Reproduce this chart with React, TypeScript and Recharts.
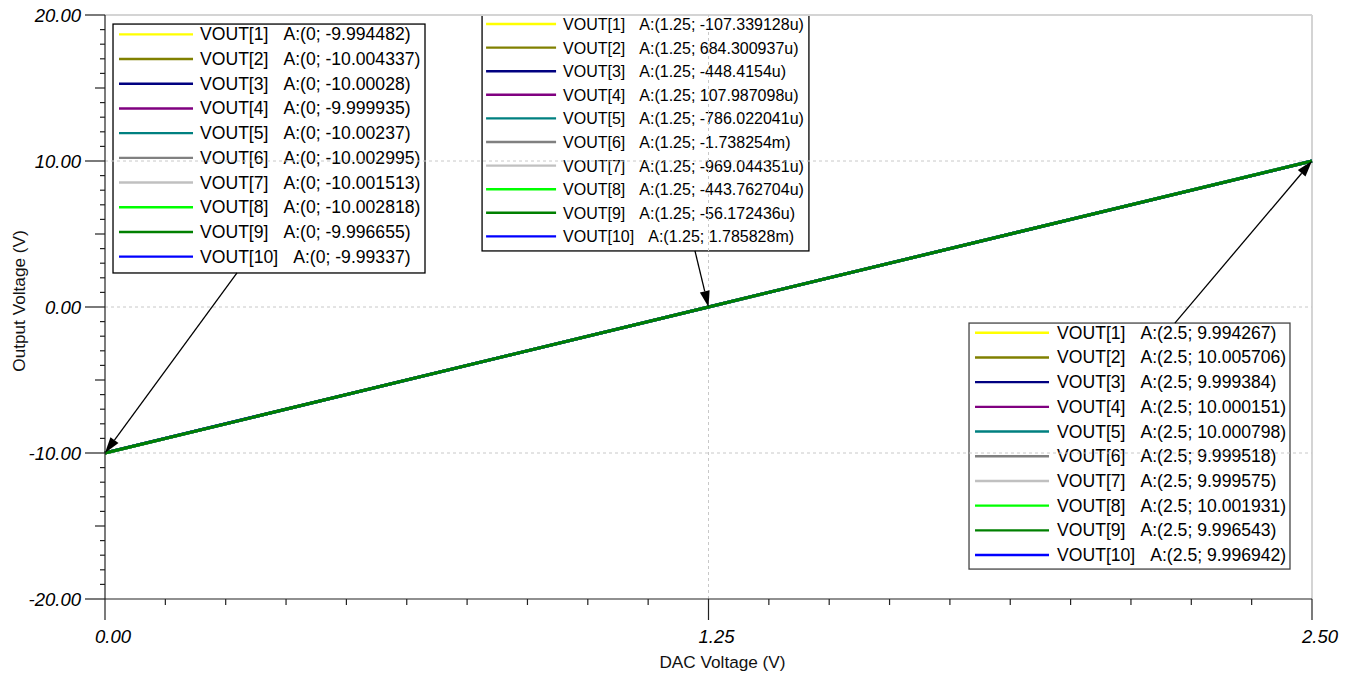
import React from 'react';
import { LineChart, Line, XAxis, YAxis, ReferenceLine, ReferenceArea } from 'recharts';

// cursor positions on the DAC axis
const dacVolts = [0, 1.25, 2.5];

const vout1 = [-9.994482, -0.000107339128, 9.994267];
const vout2 = [-10.004337, 0.000684300937, 10.005706];
const vout3 = [-10.00028, -0.0004484154, 9.999384];
const vout4 = [-9.999935, 0.000107987098, 10.000151];
const vout5 = [-10.00237, -0.000786022041, 10.000798];
const vout6 = [-10.002995, -0.001738254, 9.999518];
const vout7 = [-10.001513, -0.000969044351, 9.999575];
const vout8 = [-10.002818, -0.000443762704, 10.001931];
const vout9 = [-9.996655, -0.000056172436, 9.996543];
const vout10 = [-9.99337, 0.001785828, 9.996942];

const seriesNames = ['VOUT[1]', 'VOUT[2]', 'VOUT[3]', 'VOUT[4]', 'VOUT[5]', 'VOUT[6]', 'VOUT[7]', 'VOUT[8]', 'VOUT[9]', 'VOUT[10]'];
const seriesColors = ['#ffff00', '#808000', '#000080', '#800080', '#008080', '#808080', '#c0c0c0', '#00ff00', '#008000', '#0000ff'];
const allSeries = [vout1, vout2, vout3, vout4, vout5, vout6, vout7, vout8, vout9, vout10];

// readouts as printed in the cursor boxes
const cursorAtZero = ['-9.994482', '-10.004337', '-10.00028', '-9.999935', '-10.00237', '-10.002995', '-10.001513', '-10.002818', '-9.996655', '-9.99337'];
const cursorAtMid = ['-107.339128u', '684.300937u', '-448.4154u', '107.987098u', '-786.022041u', '-1.738254m', '-969.044351u', '-443.762704u', '-56.172436u', '1.785828m'];
const cursorAtEnd = ['9.994267', '10.005706', '9.999384', '10.000151', '10.000798', '9.999518', '9.999575', '10.001931', '9.996543', '9.996942'];

const xTicks = Array.from({ length: 21 }, (_, i) => i * 0.125);
const yTicks = Array.from({ length: 41 }, (_, i) => i - 20);

const data = dacVolts.map((x, i) => {
  const row: Record<string, number> = { x };
  allSeries.forEach((s, k) => {
    row['v' + (k + 1)] = s[i];
  });
  return row;
});

// draw VOUT[9] last, it is the one visible on top
const drawOrder = [0, 1, 2, 3, 4, 5, 6, 7, 9, 8];

const font = '"Liberation Sans", Arial, sans-serif';

const XTick = (p: any) => {
  const v = p.payload.value;
  const major = Math.abs(v % 1.25) < 1e-6 || Math.abs((v % 1.25) - 1.25) < 1e-6;
  return (
    <g>
      <line x1={p.x} x2={p.x} y1={p.y} y2={p.y + (major ? 21 : 6)} stroke="#222" strokeWidth={1.2} />
      {major && (
        <text x={p.x + 8} y={p.y + 37} textAnchor="middle" dominantBaseline="central" fontFamily={font} fontStyle="italic" fontSize={18.5} fill="#000">
          {v.toFixed(2)}
        </text>
      )}
    </g>
  );
};

const YTick = (p: any) => {
  const v = p.payload.value;
  const len = v % 10 === 0 ? 20 : v % 5 === 0 ? 10 : 5;
  return (
    <g>
      <line x1={p.x - len} x2={p.x} y1={p.y} y2={p.y} stroke="#222" strokeWidth={1.2} />
      {v % 10 === 0 && (
        <text x={p.x - 24} y={p.y} textAnchor="end" dominantBaseline="central" fontFamily={font} fontStyle="italic" fontSize={18.5} fill="#000">
          {v.toFixed(2)}
        </text>
      )}
    </g>
  );
};

const arrowShape = (p: any) => {
  const { x1, y1, x2, y2 } = p;
  const dx = x2 - x1;
  const dy = y2 - y1;
  const len = Math.hypot(dx, dy);
  const ux = dx / len;
  const uy = dy / len;
  const hl = 16;
  const hw = 5;
  const bx = x2 - ux * hl;
  const by = y2 - uy * hl;
  return (
    <g>
      <line x1={x1} y1={y1} x2={bx} y2={by} stroke="#000" strokeWidth={1.3} />
      <polygon points={`${x2},${y2} ${bx - uy * hw},${by + ux * hw} ${bx + uy * hw},${by - ux * hw}`} fill="#000" />
    </g>
  );
};

type BoxCfg = {
  at: string;
  values: string[];
  firstRow: number;
  rowGap: number;
  swatch: [number, number];
  textX: number;
  gap: number;
  fontSize: number;
  border: string;
};

const cursorBox = (cfg: BoxCfg) => (p: any) => {
  const { x, y, width, height } = p;
  return (
    <g>
      <rect x={x} y={y} width={width} height={height} fill="#fff" stroke={cfg.border} strokeWidth={1.3} />
      {seriesNames.map((name, i) => {
        const ry = y + cfg.firstRow + cfg.rowGap * i;
        return (
          <g key={name}>
            <line x1={x + cfg.swatch[0]} x2={x + cfg.swatch[1]} y1={ry} y2={ry} stroke={seriesColors[i]} strokeWidth={2.4} />
            <text x={x + cfg.textX} y={ry} dominantBaseline="central" fontFamily={font} fontSize={cfg.fontSize} fill="#000">
              <tspan>{name}</tspan>
              <tspan dx={cfg.gap}>{`A:(${cfg.at}; ${cfg.values[i]})`}</tspan>
            </text>
          </g>
        );
      })}
    </g>
  );
};

const App = () => {
  return (
    <div style={{ position: 'absolute', left: 0, top: 0, background: '#fff' }}>
      <LineChart width={1351} height={673} data={data} margin={{ top: 15, right: 39, left: 0, bottom: 0 }}>
        <XAxis
          dataKey="x"
          type="number"
          domain={[0, 2.5]}
          ticks={xTicks}
          interval={0}
          height={74}
          tickSize={0}
          tickMargin={0}
          tickLine={false}
          tick={(p: any) => <XTick {...p} />}
          axisLine={{ stroke: '#222', strokeWidth: 1.2 }}
          label={{
            content: (lp: any) => {
              const vb = lp.viewBox;
              return (
                <text x={vb.x + vb.width / 2 + 14} y={vb.y + 63} textAnchor="middle" dominantBaseline="central" fontFamily={font} fontSize={17.2} fill="#111">
                  DAC Voltage (V)
                </text>
              );
            },
          }}
        />
        <YAxis
          type="number"
          domain={[-20, 20]}
          ticks={yTicks}
          interval={0}
          width={105}
          tickSize={0}
          tickMargin={0}
          tickLine={false}
          tick={(p: any) => <YTick {...p} />}
          axisLine={{ stroke: '#222', strokeWidth: 1.2 }}
          label={{
            content: (lp: any) => {
              const vb = lp.viewBox;
              const cx = vb.x + 19;
              const cy = vb.y + vb.height / 2 - 6;
              return (
                <text x={cx} y={cy} transform={`rotate(-90 ${cx} ${cy})`} textAnchor="middle" dominantBaseline="central" fontFamily={font} fontSize={17.2} fill="#111">
                  Output Voltage (V)
                </text>
              );
            },
          }}
        />
        <ReferenceLine y={20} stroke="#d4d4d4" strokeWidth={2} />
        <ReferenceLine x={2.5} stroke="#d4d4d4" strokeWidth={2} />
        <ReferenceLine y={10} stroke="#c8c8c8" strokeDasharray="3 3" />
        <ReferenceLine y={0} stroke="#c8c8c8" strokeDasharray="3 3" />
        <ReferenceLine y={-10} stroke="#c8c8c8" strokeDasharray="3 3" />
        <ReferenceLine x={1.25} stroke="#c8c8c8" strokeDasharray="3 3" />
        {drawOrder.map((k) => (
          <Line
            key={k}
            dataKey={'v' + (k + 1)}
            type="linear"
            stroke={seriesColors[k]}
            strokeWidth={3}
            dot={false}
            activeDot={false}
            isAnimationActive={false}
          />
        ))}
        <ReferenceLine segment={[{ x: 0.2734, y: 2.33 }, { x: 0, y: -10 }]} ifOverflow="visible" shape={arrowShape} />
        <ReferenceLine segment={[{ x: 1.222, y: 3.84 }, { x: 1.25, y: 0 }]} ifOverflow="visible" shape={arrowShape} />
        <ReferenceLine segment={[{ x: 2.216, y: -1.1 }, { x: 2.5, y: 10 }]} ifOverflow="visible" shape={arrowShape} />
        <ReferenceArea
          x1={0.0166}
          x2={0.6628}
          y1={19.38}
          y2={2.33}
          ifOverflow="visible"
          shape={cursorBox({ at: '0', values: cursorAtZero, firstRow: 10.3, rowGap: 24.7, swatch: [6, 80], textX: 87, gap: 15, fontSize: 17.6, border: '#000' })}
        />
        <ReferenceArea
          x1={0.781}
          x2={1.458}
          y1={20}
          y2={3.84}
          ifOverflow="visible"
          shape={cursorBox({ at: '1.25', values: cursorAtMid, firstRow: 9, rowGap: 23.6, swatch: [4, 74], textX: 81, gap: 14, fontSize: 16, border: '#000' })}
        />
        <ReferenceArea
          x1={1.7896}
          x2={2.4544}
          y1={-1.1}
          y2={-17.95}
          ifOverflow="visible"
          shape={cursorBox({ at: '2.5', values: cursorAtEnd, firstRow: 9.7, rowGap: 24.7, swatch: [6, 80], textX: 88, gap: 15, fontSize: 17.6, border: '#444' })}
        />
      </LineChart>
    </div>
  );
};

export default App;
